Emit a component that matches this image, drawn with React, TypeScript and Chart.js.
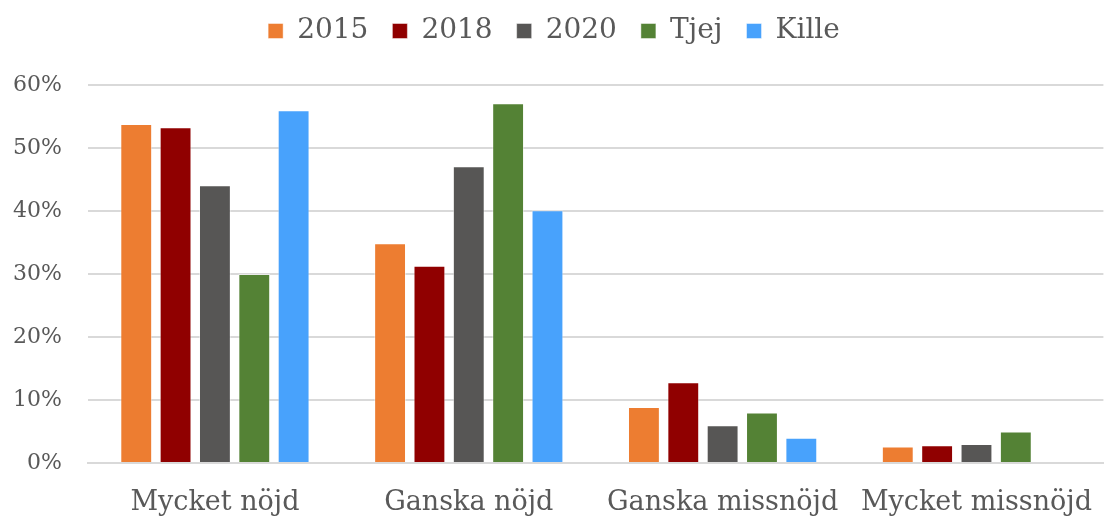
import React, { useEffect, useRef } from "react";
import { Chart, registerables } from "chart.js";

Chart.register(...registerables);

const categories = ["Mycket nöjd", "Ganska nöjd", "Ganska missnöjd", "Mycket missnöjd"];
const seriesNames = ["2015", "2018", "2020", "Tjej", "Kille"];
const values2015 = [53.8, 34.9, 8.9, 2.6];
const values2018 = [53.3, 31.3, 12.8, 2.8];
const values2020 = [44.1, 47.1, 6.0, 3.0];
const valuesTjej = [30.0, 57.1, 8.0, 5.0];
const valuesKille = [56.0, 40.1, 4.0, null];
const seriesColors = ["#ED7D31", "#900000", "#575655", "#548235", "#48A2FC"];
const yTicks = [0, 10, 20, 30, 40, 50, 60];

const FONT = "'DejaVu Serif', serif";
const TEXT = "#595959";

export default function App() {
  const ref = useRef<HTMLCanvasElement | null>(null);

  useEffect(() => {
    document.body.style.margin = "0";
    const all = [values2015, values2018, values2020, valuesTjej, valuesKille];
    const legendSpacer = {
      id: "legendSpacer",
      beforeInit(chart: any) {
        const orig = chart.legend.fit;
        chart.legend.fit = function () {
          orig.call(this);
          this.height += 30;
        };
      },
    };
    const chart = new Chart(ref.current!, {
      type: "bar",
      data: {
        labels: categories,
        datasets: seriesNames.map((n, i) => ({
          label: n,
          data: all[i],
          backgroundColor: seriesColors[i],
          borderColor: "rgba(255,255,255,0.45)",
          borderWidth: 1,
          categoryPercentage: 0.775,
          barPercentage: 0.81,
        })),
      },
      options: {
        animation: false,
        responsive: false,
        maintainAspectRatio: false,
        layout: { padding: { left: 0, right: 0, top: -7, bottom: 0 } },
        plugins: {
          tooltip: { enabled: false },
          legend: {
            position: "top",
            labels: {
              boxWidth: 15,
              boxHeight: 15,
              padding: 24,
              color: TEXT,
              font: { family: FONT, size: 28 },
            },
          },
        },
        scales: {
          x: {
            grid: { display: false },
            border: { display: true, color: "#d9d9d9", width: 2 },
            ticks: { color: TEXT, font: { family: FONT, size: 27 }, padding: 16 },
            afterFit(scale: any) {
              scale.height = 56;
            },
          },
          y: {
            min: 0,
            max: 60,
            afterBuildTicks(scale: any) {
              scale.ticks = yTicks.map((v) => ({ value: v }));
            },
            grid: { color: "#d9d9d9", lineWidth: 2, drawTicks: false },
            border: { display: false },
            ticks: {
              color: TEXT,
              font: { family: FONT, size: 22 },
              padding: 26,
              callback: (v: any) => v + "%",
            },
            afterFit(scale: any) {
              scale.width = 88;
            },
          },
        },
      },
      plugins: [legendSpacer],
    } as any);
    return () => chart.destroy();
  }, []);

  return (
    <div style={{ position: "absolute", left: 0, top: 0, width: 1108, height: 519 }}>
      <canvas ref={ref} width={1108} height={519} style={{ width: 1108, height: 519, display: "block" }} />
    </div>
  );
}
